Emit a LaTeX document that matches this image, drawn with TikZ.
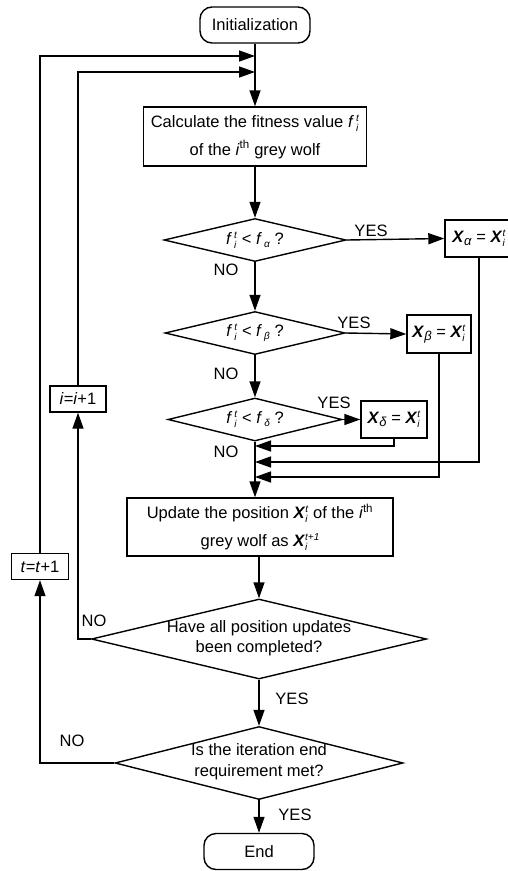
\documentclass[tikz,border=0pt]{standalone}
\usepackage{fontspec}
\setmainfont{Liberation Sans}
\usetikzlibrary{arrows.meta,calc,shapes.geometric}

%% stacked super/subscript, as in f_i^t
\newcommand{\scr}{\fontsize{10}{10}\selectfont}
\newcommand{\supsub}[2]{%
  \setbox0\hbox{\raisebox{6pt}{\scr\textit{#1}}}%
  \setbox2\hbox{\raisebox{-4pt}{\scr\textit{#2}}}%
  \ifdim\wd0>\wd2 \rlap{\box2}\box0 \else \rlap{\box0}\box2 \fi}
\newcommand{\fit}{\textit{f}\kern2pt}
\newcommand{\wolfX}{\textbf{\textit{X}}}
\newcommand{\leadX}[1]{\wolfX\raisebox{-3pt}{\fontsize{13}{13}\selectfont\textit{#1}}}

\begin{document}
\begin{tikzpicture}[x=1pt, y=-1pt,
  every node/.style={font=\fontsize{16.5}{20}\selectfont},
  proc/.style={draw, line width=1.4pt, rectangle, align=center, inner sep=0pt,
               font=\fontsize{16.5}{28}\selectfont},
  term/.style={draw, line width=1.4pt, rounded corners=12pt,
               minimum width=110, minimum height=36},
  cond/.style={draw, line width=1.4pt, diamond, inner sep=0pt},
  condtxt/.style={align=center, inner sep=0pt, font=\fontsize{16.5}{20.5}\selectfont},
  flow/.style={line width=1.4pt, -{Triangle[length=16pt,width=11pt]}},
  tag/.style={inner sep=0pt},
]
\useasboundingbox (0,0) rectangle (508,871);

%% ── columns of the main flow ─────────────────────────────
\def\xa{255}   % upper column
\def\xb{259}   % lower column

%% ── main flow ────────────────────────────────────────────
\node[term] (init) at (\xa,25) {Initialization};

\node[proc, minimum width=223, minimum height=59] (calc) at (\xa,136.5)
  {Calculate the fitness value \fit\supsub{t}{i}\\
   of the \textit{i}\textsuperscript{th} grey wolf};

% three comparisons with the leaders
\node[cond, minimum width=182, minimum height=43] (da) at (\xa,240) {};
\node[condtxt] (dat) at (da) {\fit\supsub{t}{i} < \fit\raisebox{-3pt}{\scr\textit{α}} ?};
\node[cond, minimum width=180, minimum height=43] (db) at (\xa,333) {};
\node[condtxt] (dbt) at (db) {\fit\supsub{t}{i} < \fit\raisebox{-3pt}{\scr\textit{β}} ?};
\node[cond, minimum width=174, minimum height=43] (dc) at (\xa,419.5) {};
\node[condtxt] (dct) at (dc) {\fit\supsub{t}{i} < \fit\raisebox{-3pt}{\scr\textit{δ}} ?};

% leader updates
\node[proc, minimum width=68, minimum height=37] (xal) at (479,238.5)
  {\leadX{α} = \wolfX\supsub{t}{i}};
\node[proc, minimum width=64, minimum height=38] (xbe) at (439,334)
  {\leadX{β} = \wolfX\supsub{t}{i}};
\node[proc, minimum width=66, minimum height=37] (xde) at (394,419.5)
  {\leadX{δ} = \wolfX\supsub{t}{i}};

\node[proc, minimum width=266, minimum height=58] (upd) at (260,527)
  {Update the position \wolfX\supsub{t}{i}\ of the \textit{i}\textsuperscript{th}\\
   grey wolf as \wolfX\supsub{t+1}{i}};

\node[cond, minimum width=335, minimum height=80] (dd) at (\xb,639) {};
\node[condtxt] (ddt) at (\xb,638) {Have all position updates\\been completed?};
\node[cond, minimum width=288, minimum height=73] (de) at (\xb,763) {};
\node[condtxt] (det) at (\xb,761.5) {Is the iteration end\\requirement met?};

\node[term] (fin) at (\xb,851.5) {End};

%% ── counters ─────────────────────────────────────────────
\node[proc, minimum width=56, minimum height=26] (inc) at (78,399)
  {\textit{i}=\textit{i}+1};
\node[proc, minimum width=57, minimum height=26] (tnc) at (40,566.5)
  {\textit{t}=\textit{t}+1};

%% ── connectors ───────────────────────────────────────────
\draw[flow] (init) -- (calc);
\draw[flow] (calc) -- (da);
\draw[flow] (da) -- (db);
\draw[flow] (db) -- (dc);
\draw[flow] (da.east) -- (xal.west);
\draw[flow] (db.east) -- (xbe.west);
\draw[flow] (dc.east) -- (xde.west);

% back into the main column
\coordinate (mrgD) at (\xa,446);
\coordinate (mrgA) at (\xa,462);
\coordinate (mrgB) at (\xa,477);
\draw[flow] (xde.south) |- (mrgD);
\draw[flow] (xal.south) |- (mrgA);
\draw[flow] (xbe.south) |- (mrgB);
\draw[flow] (dc.south) -- (dc.south |- upd.north);

\draw[flow] (upd.south -| dd.north) -- (dd.north);
\draw[flow] (dd) -- (de);
\draw[flow] (de) -- (fin);

% loops
\coordinate (jI) at (\xa,72);
\coordinate (jT) at (\xa,56);
\draw[flow] (dd.west) -| (inc.south);
\draw[flow] (inc.north) |- (jI);
\draw[flow] (de.west) -| (tnc.south);
\draw[flow] (tnc.north) |- (jT);

%% ── branch labels ────────────────────────────────────────
\node[tag] (yesA) at (371,231) {YES};
\node[tag] (noA)  at (226,270) {NO};
\node[tag] (yesB) at (354,323) {YES};
\node[tag] (noB)  at (226,374) {NO};
\node[tag] (yesC) at (334,403) {YES};
\node[tag] (noC)  at (226,452) {NO};
\node[tag] (noD)  at (94,621)  {NO};
\node[tag] (yesD) at (292,699) {YES};
\node[tag] (noE)  at (72,741)  {NO};
\node[tag] (yesE) at (295,815) {YES};

\end{tikzpicture}
\end{document}
